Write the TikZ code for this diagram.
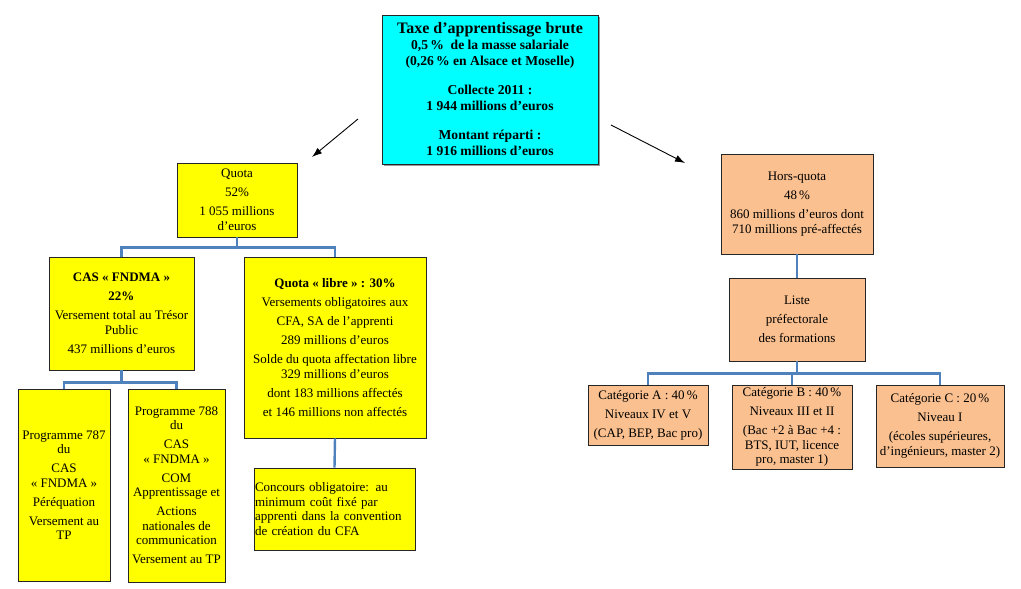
\documentclass[tikz,border=0pt]{standalone}
\usepackage{fontspec}
\setmainfont{Liberation Serif}
\usepackage{tikz}
\usetikzlibrary{positioning,shapes,arrows,arrows.meta,shadows}
\definecolor{taxcyan}{RGB}{0,255,255}
\definecolor{quotayellow}{RGB}{255,255,0}
\definecolor{horsorange}{RGB}{250,192,143}
\definecolor{linkblue}{RGB}{79,129,189}
\tikzstyle{bx}=[%
      rectangle, draw=black!85, thick, drop shadow={shadow xshift=1pt, shadow yshift=-1pt, opacity=.5},
      align=center, inner sep=1pt, font=\fontsize{13}{14.5}\selectfont
]
\tikzstyle{tx}=[%
      bx, fill=taxcyan, font=\bfseries\fontsize{13.6}{16}\selectfont,
      drop shadow={shadow xshift=2pt, shadow yshift=-2pt, opacity=.8}
]
\tikzstyle{qt}=[%
      bx, fill=quotayellow
]
\tikzstyle{hq}=[%
      bx, fill=horsorange
]
\tikzstyle{lk}=[%
      draw=linkblue, line width=2.4pt
]

\begin{document}
\begin{tikzpicture}[x=1pt, y=-1pt,
    >={Latex[length=10pt,width=7pt]}
  ]
    \useasboundingbox (0,0) rectangle (1021,589);

    \node[tx, minimum width=216pt, minimum height=149pt] (top) at (490,89.5)
      {{\fontsize{16}{16}\selectfont Taxe d’apprentissage brute}\\0,5\,\%~ de la masse salariale\\(0,26\,\% en Alsace et Moselle)\\[13pt]
       Collecte 2011~:\\1~944 millions d’euros\\[13pt]Montant réparti~:\\1~916 millions d’euros};

    \node[qt, minimum width=120pt, minimum height=74pt]  (quota)    at (237,200)   {Quota\\[4.5pt]52\%\\[4.5pt]1~055 millions\\d'euros};
    \node[qt, minimum width=145pt, minimum height=113pt] (cas)      at (121.5,313.5)
      {\textbf{CAS «~FNDMA~»}\\[4.5pt]\textbf{22\%}\\[4.5pt]Versement total au Trésor\\Public\\[4.5pt]437 millions d'euros};
    \node[qt, minimum width=182pt, minimum height=181pt] (libre)    at (335,347.5)
      {\textbf{Quota «~libre~» : 30\%}\\[4.5pt]Versements obligatoires aux\\[4.5pt]CFA, SA de l’apprenti\\[4.5pt]289 millions d'euros\\[4.5pt]
       Solde du quota affectation libre\\329 millions d'euros\\[4.5pt]dont 183 millions affectés\\[4.5pt]et 146 millions non affectés};
    \node[qt, minimum width=92pt, minimum height=192pt]  (progA)    at (64,485)
      {Programme 787\\du\\[4.5pt]CAS\\«~FNDMA~»\\[4.5pt]Péréquation\\[4.5pt]Versement au\\TP};
    \node[qt, minimum width=97pt, minimum height=193pt]  (progB)    at (176.5,485.5)
      {Programme 788\\du\\[4.5pt]CAS\\«~FNDMA~»\\[4.5pt]COM\\Apprentissage et\\[4.5pt]Actions\\nationales de\\communication\\[4.5pt]Versement au TP};
    \node[qt, minimum width=161pt, minimum height=82pt, text width=159pt, align=left] (concours) at (334.5,509)
      {Concours obligatoire: au\\minimum coût fixé par\\apprenti dans la convention\\de création du CFA};

    \node[hq, minimum width=152pt, minimum height=100pt] (horsquota) at (797,204)
      {Hors-quota\\[4.5pt]48\,\%\\[4.5pt]860 millions d'euros dont\\710 millions pré-affectés};
    \node[hq, minimum width=136pt, minimum height=83pt]  (liste)    at (797,319.5) {Liste\\[4.5pt]préfectorale\\[4.5pt]des formations};
    \node[hq, minimum width=120pt, minimum height=60pt]  (catA)     at (648,415)
      {Catégorie A : 40\,\%\\[4.5pt]Niveaux IV et V\\[4.5pt](CAP, BEP, Bac pro)};
    \node[hq, minimum width=120pt, minimum height=84pt]  (catB)     at (792,427)
      {Catégorie B : 40\,\%\\[4.5pt]Niveaux III et II\\[4.5pt](Bac +2 à Bac +4 :\\BTS, IUT, licence\\pro, master 1)};
    \node[hq, minimum width=128pt, minimum height=82pt]  (catC)     at (940,426)
      {Catégorie C : 20\,\%\\[4.5pt]Niveau I\\[4.5pt](écoles supérieures,\\d'ingénieurs, master 2)};

    \coordinate (leftA)  at (358,119);
    \coordinate (leftB)  at (312,157);
    \coordinate (rightA) at (611,125);
    \coordinate (rightB) at (685,163);
    \draw[->, line width=0.9pt] (leftA) -- (leftB);
    \draw[->, line width=0.9pt] (rightA) -- (rightB);

    \draw[lk] (quota.south) -- ++(0,10) coordinate (qj) -| (cas.north);
    \draw[lk] (qj) -| (libre.north);
    \draw[lk] (cas.south) -- ++(0,12) coordinate (cj) -| (progA.north);
    \draw[lk] (cj) -| (progB.north);
    \draw[lk] (libre.south) -- (concours.north);
    \draw[lk] (horsquota.south) -- (liste.north);
    \draw[lk] (liste.south) -- ++(0,12) coordinate (lj) -| (catA.north);
    \draw[lk] (lj) -| (catB.north);
    \draw[lk] (lj) -| (catC.north);

  \end{tikzpicture}
\end{document}
